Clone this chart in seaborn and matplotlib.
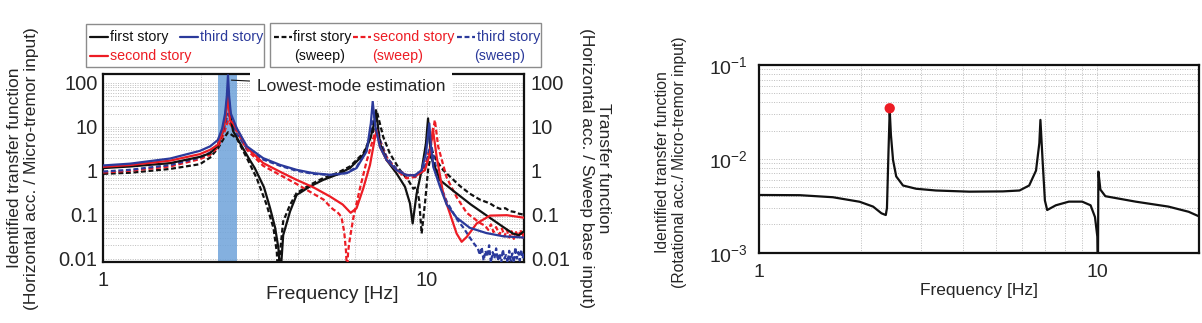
import numpy as np
import pandas as pd
import matplotlib
matplotlib.use("Agg")
import matplotlib.pyplot as plt
import matplotlib.ticker as mticker
from matplotlib.lines import Line2D
from matplotlib.patches import Rectangle
import seaborn as sns

# ---------------- data ----------------
first_mt_f = [1.0, 1.21, 1.61, 1.99, 2.14, 2.26, 2.33, 2.38, 2.41, 2.43, 2.45, 2.48, 2.52, 2.66, 2.82, 2.94,
              3.14, 3.28, 3.40, 3.48, 3.53, 3.60, 3.78, 3.96, 4.36, 4.79, 5.27, 5.79, 6.37, 6.70, 6.88, 6.97,
              7.05, 7.17, 7.52, 8.07, 8.57, 8.88, 9.05, 9.31, 9.65, 9.95, 10.1, 10.2, 10.36, 11.0, 12.08, 13.7,
              15.5, 17.4, 18.5, 19.3, 20.0]
first_mt_h = [1.15, 1.25, 1.49, 2.07, 2.5, 3.8, 7, 15, 35, 60, 35, 15, 8, 4.0, 1.9, 1.15,
              0.42, 0.14, 0.05, 0.017, 0.004, 0.034, 0.118, 0.28, 0.44, 0.62, 0.81, 1.15, 2.3, 5.5, 12, 24,
              12, 4.2, 1.75, 0.87, 0.43, 0.18, 0.063, 0.30, 1.03, 4.2, 15.6, 5, 1.9, 0.61, 0.35, 0.17,
              0.09, 0.05, 0.037, 0.034, 0.042]

second_mt_f = [1.0, 1.21, 1.61, 1.99, 2.14, 2.26, 2.33, 2.38, 2.41, 2.43, 2.45, 2.465, 2.52, 2.65, 2.78,
               3.12, 3.52, 3.96, 4.46, 5.02, 5.5, 5.82, 6.07, 6.37, 6.68, 6.9, 7.0, 7.1, 7.17, 7.52,
               8.07, 8.67, 9.31, 9.88, 10.24, 10.45, 10.74, 11.25, 11.8, 12.38, 12.83, 13.3, 14.28, 15.7,
               17.7, 20.0]
second_mt_h = [1.23, 1.35, 1.7, 2.39, 3.0, 3.9, 7, 14, 30, 55, 25, 14, 12, 6.5, 3.4,
               1.5, 0.95, 0.62, 0.42, 0.26, 0.17, 0.11, 0.14, 0.4, 1.36, 5, 8.4, 5, 3.5, 1.75,
               1.03, 0.79, 0.79, 1.03, 2.5, 9, 2.07, 0.30, 0.106, 0.037, 0.024, 0.031, 0.063, 0.095,
               0.097, 0.085]

third_mt_f = [1.0, 1.21, 1.61, 1.99, 2.14, 2.26, 2.33, 2.38, 2.41, 2.43, 2.45, 2.48, 2.585, 2.78, 3.12,
              3.52, 3.96, 4.46, 5.02, 5.66, 6.07, 6.52, 6.72, 6.81, 6.87, 6.94, 7.17, 7.52, 8.07, 8.67,
              9.2, 9.65, 9.95, 10.19, 10.3, 10.48, 11.0, 11.53, 12.38, 13.6, 15.3, 17.3, 20.0]
third_mt_h = [1.32, 1.45, 1.9, 2.84, 3.6, 5.0, 9, 20, 50, 150, 50, 20, 9.4, 3.6, 1.94,
              1.36, 1.05, 0.88, 0.81, 0.88, 1.15, 2.75, 12, 38, 20, 10, 3.5, 1.75, 1.03, 0.79,
              0.79, 1.03, 2.5, 12, 4, 1.23, 0.43, 0.17, 0.085, 0.05, 0.038, 0.032, 0.03]

first_sw_f = [1.0, 1.21, 1.61, 1.99, 2.14, 2.26, 2.36, 2.43, 2.50, 2.585, 2.78, 2.98, 3.20, 3.36, 3.44,
              3.47, 3.52, 3.60, 3.78, 3.96, 4.36, 4.79, 5.27, 5.79, 6.37, 6.84, 7.02, 7.34, 7.69, 8.27,
              8.77, 9.09, 9.31, 9.48, 9.65, 9.9, 10.1, 10.36, 10.7, 11.25, 12.67, 13.6, 14.6, 15.7, 16.3,
              16.9, 17.5, 18.1, 18.7, 19.3, 20.0]
first_sw_h = [0.85, 0.9, 1.1, 1.41, 2.0, 3.2, 5.5, 7.5, 6.5, 5.5, 1.94, 0.68, 0.167, 0.049, 0.014,
              0.004, 0.014, 0.07, 0.167, 0.31, 0.48, 0.68, 0.88, 1.25, 2.5, 8, 22, 5.9, 2.5, 1.03,
              0.61, 0.39, 0.43, 0.21, 0.037, 0.21, 1.03, 3.0, 1.75, 1.03, 0.45, 0.3, 0.22, 0.18, 0.15,
              0.135, 0.14, 0.12, 0.115, 0.105, 0.1]

second_sw_f = [1.0, 1.21, 1.61, 1.99, 2.14, 2.26, 2.36, 2.43, 2.50, 2.585, 2.78, 3.12, 3.52, 3.96, 4.46,
               4.8, 5.02, 5.15, 5.27, 5.38, 5.46, 5.56, 5.63, 5.67, 5.72, 5.79, 5.93, 6.22, 6.52, 6.84,
               7.0, 7.17, 7.52, 8.07, 8.67, 9.31, 9.88, 10.36, 10.6, 10.86, 11.53, 12.38, 13.3, 14.6, 15.2,
               15.5, 15.8, 16.1, 16.4, 16.8, 17.1, 17.4, 17.7, 18.0, 18.3, 18.6, 18.9, 19.2, 19.5, 19.8, 20.0]
second_sw_h = [0.91, 1.0, 1.25, 1.84, 2.3, 3.4, 7, 14, 10, 8, 3.0, 1.3, 0.8, 0.5, 0.3,
               0.22, 0.154, 0.13, 0.118, 0.1, 0.083, 0.04, 0.015, 0.005, 0.015, 0.029, 0.083, 0.40, 1.63, 5.5,
               9, 5, 2.07, 1.03, 0.67, 0.73, 1.23, 5, 14.3, 3.5, 0.7, 0.25, 0.11, 0.065, 0.055,
               0.045, 0.06, 0.04, 0.052, 0.035, 0.048, 0.032, 0.045, 0.03, 0.042, 0.028, 0.04, 0.03, 0.045, 0.03, 0.038]

third_sw_f = [1.0, 1.21, 1.61, 1.99, 2.14, 2.26, 2.36, 2.43, 2.50, 2.585, 2.78, 3.12, 3.52, 3.96, 4.46,
              4.75, 5.02, 5.3, 5.66, 6.07, 6.52, 6.76, 6.92, 7.05, 7.17, 7.52, 8.07, 8.67, 9.2, 9.65,
              10.0, 10.3, 10.55, 11.0, 11.53, 12.38, 13.0, 13.6, 14.0, 14.4, 14.6, 14.8, 15.0, 15.2, 15.4,
              15.6, 15.8, 16.0, 16.2, 16.4, 16.6, 16.8, 17.0, 17.2, 17.4, 17.6, 17.8, 18.0, 18.2, 18.4,
              18.6, 18.8, 19.0, 19.2, 19.4, 19.6, 19.8, 20.0]
third_sw_h = [0.96, 1.05, 1.35, 2.0, 2.6, 4.0, 9, 20, 12, 7, 3.2, 1.8, 1.3, 1.0, 0.85,
              0.83, 0.78, 0.82, 0.9, 1.2, 3.0, 10, 20, 12, 5, 2.0, 1.1, 0.8, 0.75, 0.9,
              1.6, 4.3, 1.8, 0.5, 0.2, 0.08, 0.05, 0.03, 0.022, 0.017, 0.012, 0.018, 0.009, 0.015, 0.011,
              0.02, 0.008, 0.014, 0.01, 0.017, 0.009, 0.013, 0.008, 0.016, 0.01, 0.012, 0.008, 0.015, 0.009, 0.013,
              0.008, 0.018, 0.01, 0.014, 0.009, 0.016, 0.01, 0.013]

rot_f = [1.0, 1.318, 1.65, 1.98, 2.17, 2.297, 2.366, 2.385, 2.41, 2.43, 2.45, 2.486, 2.54, 2.66, 2.91,
         3.33, 4.18, 5.25, 5.88, 6.28, 6.58, 6.73, 6.78, 6.88, 6.99, 7.1, 7.53, 8.23, 9.01, 9.54,
         9.83, 9.99, 10.03, 10.06, 10.2, 10.55, 12.96, 16.2, 18.6, 20.0]
rot_h = [0.00412, 0.0041, 0.0039, 0.00349, 0.0031, 0.00263, 0.00252, 0.003, 0.012, 0.033, 0.018, 0.0097,
         0.0065, 0.0052, 0.0048, 0.0046, 0.00447, 0.0045, 0.0046, 0.0052, 0.0075, 0.0147, 0.026, 0.0097,
         0.0036, 0.00285, 0.0032, 0.0035, 0.0035, 0.0032, 0.0024, 0.00148, 0.0006, 0.0073, 0.0047, 0.0040,
         0.0035, 0.0031, 0.00273, 0.00243]

peak_f = [2.43]
peak_h = [0.0346]

mode_band = [2.27, 2.60]
story_labels = ["first story", "second story", "third story"]
left_yticks = [0.01, 0.1, 1, 10, 100]
left_yticklabels = ["0.01", "0.1", "1", "10", "100"]
right_yticks = [1e-3, 1e-2, 1e-1]
xticks = [1, 10]

# ---------------- style ----------------
sns.set_theme(style="white")
FONT = ["Liberation Sans", "DejaVu Sans"]
plt.rcParams["font.family"] = FONT
plt.rcParams["axes.unicode_minus"] = False

BLACK = "#111111"
RED = "#ed1c24"
BLUE = "#2b3a9b"
GRID = "#bdbdbd"

W, H = 1202, 323
fig = plt.figure(figsize=(W / 100, H / 100), dpi=100)
fig.patch.set_facecolor("white")

ax1 = fig.add_axes([103.3 / W, 1 - 262.3 / H, 420.7 / W, 188.3 / H])
ax3 = fig.add_axes([759.3 / W, 1 - 252.7 / H, 440.0 / W, 187.7 / H])


def style_log_axes(ax):
    ax.set_xscale("log")
    ax.set_yscale("log")
    ax.set_axisbelow(True)
    ax.xaxis.set_minor_locator(mticker.LogLocator(base=10, subs=np.arange(2, 10)))
    ax.yaxis.set_minor_locator(mticker.LogLocator(base=10, subs=np.arange(2, 10), numticks=20))
    ax.xaxis.set_minor_formatter(mticker.NullFormatter())
    ax.yaxis.set_minor_formatter(mticker.NullFormatter())
    ax.grid(True, which="both", color=GRID, linestyle=(0, (1, 1.5)), linewidth=0.7)
    for s in ax.spines.values():
        s.set_color(BLACK)
        s.set_linewidth(1.6)
    ax.tick_params(which="both", length=0)


def draw(ax, f, h, color, dashed=False, lw=1.6, z=3):
    df = pd.DataFrame({"f": f, "h": h})
    kw = dict(linestyle=(0, (2.2, 1.2)) if dashed else "-")
    sns.lineplot(data=df, x="f", y="h", ax=ax, color=color, linewidth=lw,
                 estimator=None, sort=False, legend=False, zorder=z, **kw)


# ---------------- left panel ----------------
style_log_axes(ax1)
ax1.axvspan(mode_band[0], mode_band[1], color="#6fa3da", alpha=0.85, lw=0, zorder=1)

draw(ax1, first_sw_f, first_sw_h, BLACK, dashed=True, z=3)
draw(ax1, second_sw_f, second_sw_h, RED, dashed=True, z=3)
draw(ax1, third_sw_f, third_sw_h, BLUE, dashed=True, z=3)
draw(ax1, first_mt_f, first_mt_h, BLACK, z=4)
draw(ax1, second_mt_f, second_mt_h, RED, z=4)
draw(ax1, third_mt_f, third_mt_h, BLUE, z=4)

ax1.set_xlim(1, 20)
ax1.set_ylim(0.0082, 160)
ax1.set_xticks(xticks)
ax1.set_xticklabels(["1", "10"])
ax1.set_yticks(left_yticks)
ax1.set_yticklabels(left_yticklabels)
ax1.tick_params(axis="x", labelsize=14.5, pad=6)
ax1.tick_params(axis="y", labelsize=14.5, pad=4)

ax1.set_xlabel("Frequency [Hz]", fontsize=14, va="center")
ax1.xaxis.set_label_coords(0.544, -0.172)
ax1.set_ylabel("Identified transfer function\n(Horizontal acc. / Micro-tremor input)",
               fontsize=12.5, va="center", linespacing=1.15)
ax1.yaxis.set_label_coords(-0.191, 0.5)

# twin axis on the right (sweep input)
ax2 = ax1.twinx()
ax2.set_yscale("log")
ax2.set_ylim(ax1.get_ylim())
ax2.set_yticks(left_yticks)
ax2.set_yticklabels(left_yticklabels)
ax2.yaxis.set_minor_formatter(mticker.NullFormatter())
ax2.tick_params(which="both", length=0, labelsize=14.5, pad=5)
ax2.grid(False)
for s in ax2.spines.values():
    s.set_visible(False)
ax2.set_ylabel("Transfer function\n(Horizontal acc. / Sweep base input)", fontsize=12.5,
               rotation=270, va="center", linespacing=1.15)
ax2.yaxis.set_label_coords(1.169, 0.5)

ax1.annotate("Lowest-mode estimation", xy=(2.49, 116), xytext=(2.98, 85),
             fontsize=12.5, va="center", ha="left", zorder=20, annotation_clip=False,
             bbox=dict(boxstyle="square,pad=0.4", fc="white", ec="none"),
             arrowprops=dict(arrowstyle="-", color=BLACK, lw=0.8, shrinkA=0, shrinkB=0))

# ---------------- legends (two framed boxes above left panel) ----------------
def fx(x):
    return x / W


def fy(y):
    return 1 - y / H


def frame(x0, y0, x1, y1):
    fig.add_artist(Rectangle((fx(x0), fy(y1)), fx(x1) - fx(x0), fy(y0) - fy(y1),
                             transform=fig.transFigure, fill=False, ec="#8c8c8c", lw=1.0))


def handle(x0, x1, y, color, dashed):
    fig.add_artist(Line2D([fx(x0), fx(x1)], [fy(y), fy(y)], transform=fig.transFigure,
                          color=color, lw=1.6, linestyle=(0, (2.2, 1.2)) if dashed else "-"))


LFS = 10.3
frame(85.7, 24, 264.3, 66.7)
handle(90, 108, 36.7, BLACK, False)
fig.text(fx(110), fy(36.7), story_labels[0], color=BLACK, fontsize=LFS, va="center", ha="left")
handle(180, 198, 36.7, BLUE, False)
fig.text(fx(200.5), fy(36.7), story_labels[2], color=BLUE, fontsize=LFS, va="center", ha="left")
handle(90, 108, 56, RED, False)
fig.text(fx(110), fy(56), story_labels[1], color=RED, fontsize=LFS, va="center", ha="left")

frame(270, 23.3, 540.7, 66.7)
for (hx0, tx, cx, col, lab) in [(274, 293, 320, BLACK, story_labels[0]),
                                (353, 373, 398, RED, story_labels[1]),
                                (457, 477, 500, BLUE, story_labels[2])]:
    handle(hx0, hx0 + 18, 36.7, col, True)
    fig.text(fx(tx), fy(36.7), lab, color=col, fontsize=LFS, va="center", ha="left")
    fig.text(fx(cx), fy(56), "(sweep)", color=col, fontsize=LFS, va="center", ha="center")

# ---------------- right panel ----------------
style_log_axes(ax3)
draw(ax3, rot_f, rot_h, BLACK, lw=1.6, z=3)
sns.scatterplot(x=peak_f, y=peak_h, ax=ax3, color=RED, s=55, edgecolor="none", zorder=5, legend=False)
ax3.set_xlim(1, 20)
ax3.set_ylim(1e-3, 1e-1)
ax3.set_xticks(xticks)
ax3.set_xticklabels(["1", "10"])
ax3.set_yticks(right_yticks)
ax3.set_yticklabels([r"$\mathregular{10^{-3}}$", r"$\mathregular{10^{-2}}$", r"$\mathregular{10^{-1}}$"])
ax3.tick_params(axis="x", labelsize=14, pad=8)
ax3.tick_params(axis="y", labelsize=14, pad=8)
ax3.set_xlabel("Frequency [Hz]", fontsize=12.5, va="center")
ax3.xaxis.set_label_coords(0.5, -0.199)
ax3.set_ylabel("Identified transfer function\n(Rotational acc./ Micro-tremor input)",
               fontsize=11.3, va="center", linespacing=1.15)
ax3.yaxis.set_label_coords(-0.2007, 0.483)

fig.savefig("out.png", dpi=100, facecolor="white")
